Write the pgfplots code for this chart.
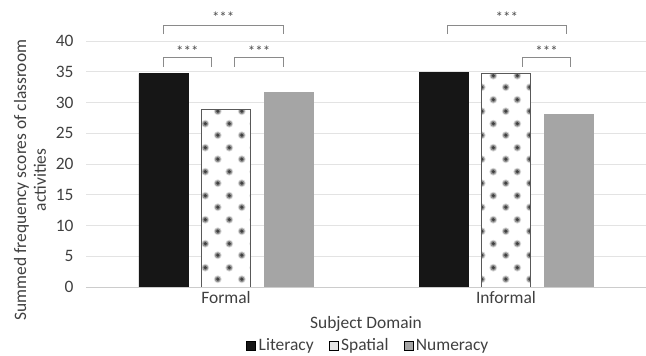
\documentclass[border=0pt]{standalone}
\usepackage{pgfplots}
\pgfplotsset{compat=1.18}
\usepackage{fontspec}
\setmainfont{Carlito}
\usetikzlibrary{patterns.meta, calc}

\definecolor{txt}{HTML}{404040}
\definecolor{litfill}{HTML}{161616}
\definecolor{numfill}{HTML}{A5A5A5}
\definecolor{gridc}{HTML}{E3E3E3}
\definecolor{brk}{HTML}{8A8A8A}

% soft dotted fill for the Spatial bars
\tikzdeclarepattern{
  name=softdots,
  type=colored,
  bottom left={(0bp,0bp)}, top right={(23.5bp,23.5bp)},
  tile size={(23.5bp,23.5bp)},
  code={
    \fill[white] (0bp,0bp) rectangle (23.5bp,23.5bp);
    \foreach \cx/\cy in {5.875/5.875,17.625/17.625} {
      \fill[black!15] (\cx bp,\cy bp) circle (4.0bp);
      \fill[black!42] (\cx bp,\cy bp) circle (3.0bp);
      \fill[black!75] (\cx bp,\cy bp) circle (1.8bp);
    }
  }
}

% flag for the small checked swatch used in the legend for Spatial
\gdef\swatchgrid{0}
\tikzset{checkswatch/.code={\gdef\swatchgrid{1}}}

\pgfplotstableread{
x lit spa num
0 34.7 28.9 31.6
1 34.9 34.7 28.1
}\scores

\newcommand{\stars}{{\fontsize{15}{15}\selectfont ***}}

\begin{document}
\begin{tikzpicture}
\begin{axis}[
  scale only axis,
  width=560bp, height=246bp,
  ybar, bar width=49bp,
  xmin=-0.5, xmax=1.5, ymin=0, ymax=40,
  xtick={0,1}, xticklabels={Formal,Informal},
  ytick={0,5,...,40},
  /pgf/number format/assume math mode=true,
  ymajorgrids, grid style={draw=gridc, line width=0.8bp},
  axis line style={draw=none}, major tick length=0pt,
  clip=false,
  font=\fontsize{17.5}{20}\selectfont,
  tick label style={text=txt, font=\fontsize{17.5}{20}\selectfont},
  yticklabel style={xshift=-9bp},
  xticklabel style={yshift=-1bp},
  xlabel={Subject Domain},
  xlabel style={text=txt, at={(axis description cs:0.5,-0.152)}, anchor=center},
  ylabel={Summed frequency scores of classroom\\activities},
  ylabel style={text=txt, align=center, at={(axis description cs:-0.1,0.435)}, anchor=center},
  legend columns=3,
  legend style={draw=none, fill=none, text=txt, font=\fontsize{17.5}{20}\selectfont,
    at={(axis description cs:0.505,-0.238)}, anchor=center,
    nodes={inner xsep=3bp},
    /tikz/every even column/.style={column sep=12bp}},
  legend image code/.code={%
    \gdef\swatchgrid{0}%
    \path[#1] (0bp,-4.5bp) rectangle (9bp,4.5bp);
    \ifnum\swatchgrid=1
      \foreach \t in {2.25,4.5,6.75} {
        \draw[black!40, line width=0.6bp] (\t bp,-4.5bp) -- (\t bp,4.5bp);
        \draw[black!40, line width=0.6bp] (0bp,\t bp-4.5bp) -- (9bp,\t bp-4.5bp);
      }
      \draw[black!50, line width=0.6bp] (0bp,-4.5bp) rectangle (9bp,4.5bp);
    \fi},
]
% bars placed side by side with explicit shifts
\addplot[forget plot, bar shift=-62.5bp, fill=litfill, draw=litfill, line width=0.5bp] table[x=x, y=lit] {\scores};
\addplot[forget plot, bar shift=0bp, pattern={softdots}, draw=black!65, line width=0.6bp] table[x=x, y=spa] {\scores};
\addplot[forget plot, bar shift=62.5bp, fill=numfill, draw=numfill, line width=0.5bp] table[x=x, y=num] {\scores};

\addlegendimage{fill=litfill}
\addlegendentry{Literacy}
\addlegendimage{fill=black!10, checkswatch}
\addlegendentry{Spatial}
\addlegendimage{fill=numfill}
\addlegendentry{Numeracy}

% baseline
\draw[black!20, line width=1bp] (axis cs:-0.5,0) -- (axis cs:1.5,0);

% significance brackets, Formal
\draw[brk, line width=0.7bp] (axis cs:-0.224,41.1) -- (axis cs:-0.224,42.6) -- (axis cs:0.205,42.6) -- (axis cs:0.205,41.1);
\node[text=black!70] at (axis cs:-0.01,43.9) {\stars};
\draw[brk, line width=0.7bp] (axis cs:-0.224,35.8) -- (axis cs:-0.224,37.4) -- (axis cs:-0.052,37.4) -- (axis cs:-0.052,35.8);
\node[text=black!70] at (axis cs:-0.138,38.3) {\stars};
\draw[brk, line width=0.7bp] (axis cs:0.030,35.8) -- (axis cs:0.030,37.4) -- (axis cs:0.205,37.4) -- (axis cs:0.205,35.8);
\node[text=black!70] at (axis cs:0.118,38.3) {\stars};

% significance brackets, Informal
\draw[brk, line width=0.7bp] (axis cs:0.790,41.1) -- (axis cs:0.790,42.6) -- (axis cs:1.217,42.6) -- (axis cs:1.217,41.1);
\node[text=black!70] at (axis cs:1.003,43.9) {\stars};
\draw[brk, line width=0.7bp] (axis cs:1.059,35.8) -- (axis cs:1.059,37.4) -- (axis cs:1.230,37.4) -- (axis cs:1.230,35.8);
\node[text=black!70] at (axis cs:1.145,38.3) {\stars};
\end{axis}
% page frame around the plot area and its labels
\pgfresetboundingbox
\path ($(current axis.south west)+(-86bp,-69bp)$) rectangle ($(current axis.north east)+(0bp,41bp)$);
\end{tikzpicture}
\end{document}
